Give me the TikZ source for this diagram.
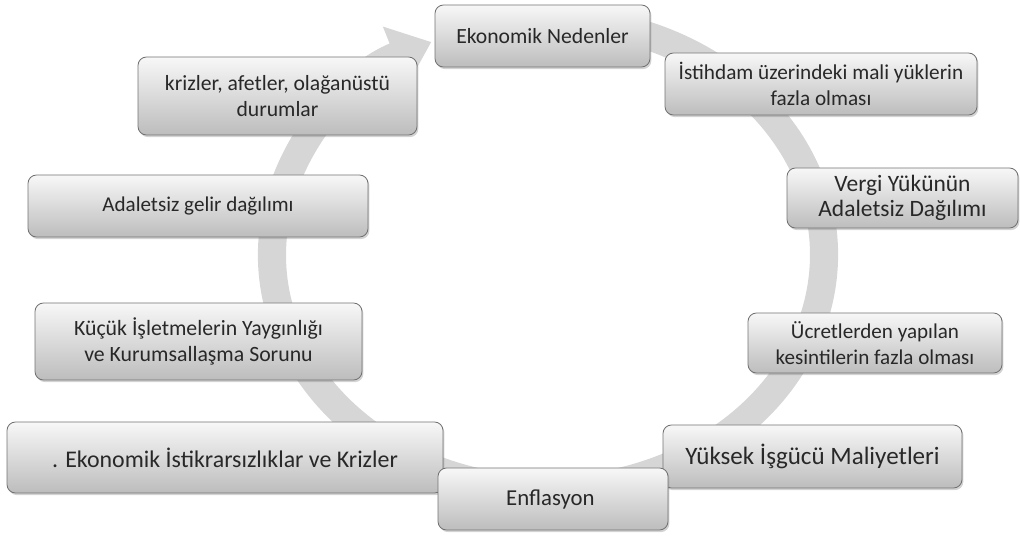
\documentclass[tikz,border=0pt]{standalone}
\usepackage{fontspec}
\setmainfont{Carlito}
\usepackage{tikz}
\usetikzlibrary{arrows.meta,shadows}

\definecolor{ringgray}{RGB}{214,214,214}
\definecolor{boxtext}{RGB}{40,40,40}
\definecolor{boxline}{RGB}{115,115,115}

\tikzset{
    causebox/.style={draw=boxline, line width=0.6pt, rounded corners=6pt,
        top color=black!3, bottom color=black!26, text=boxtext, align=center,
        inner sep=0pt,
        drop shadow={shadow xshift=1pt, shadow yshift=-1.5pt, opacity=0.35}}
}

\begin{document}
\begin{tikzpicture}[x=0.025cm, y=0.025cm]
    \useasboundingbox (0,0) rectangle (1020,-536);
    \draw[ringgray, line width=20pt, -{Triangle[length=28pt,width=44pt]}]
        (548,-255) ++(80:276 and 235) arc[start angle=80, end angle=-245, x radius=276, y radius=235];
    \foreach \n/\x/\w/\h/\s/\l in{
    1/{(542.5,-36)}/215/62/15.4/{Ekonomik Nedenler},
    2/{(821,-84)}/312/62/15.1/{İstihdam üzerindeki mali yüklerin\\fazla olması},
    3/{(902.5,-198)}/231/60/16.7/{Vergi Yükünün\\Adaletsiz Dağılımı},
    4/{(875,-343)}/254/60/15/{Ücretlerden yapılan\\kesintilerin fazla olması},
    5/{(812.5,-456.5)}/299/63/17.8/{Yüksek İşgücü Maliyetleri},
    7/{(225,-457.5)}/436/71/17/{. Ekonomik İstikrarsızlıklar ve Krizler},
    8/{(198.5,-341.5)}/327/77/15.5/{Küçük İşletmelerin Yaygınlığı\\ve Kurumsallaşma Sorunu},
    9/{(198,-206)}/340/62/15/{Adaletsiz gelir dağılımı},
    10/{(277.5,-96)}/279/78/15.4/{krizler, afetler, olağanüstü\\durumlar},
    6/{(553,-499)}/230/62/16.2/{Enflasyon}
    }
    {
        \node[causebox, font=\fontsize{\s}{18}\selectfont,
            minimum width=\w*0.025cm, minimum height=\h*0.025cm] (\n) at \x {\l};
    }
\end{tikzpicture}
\end{document}
